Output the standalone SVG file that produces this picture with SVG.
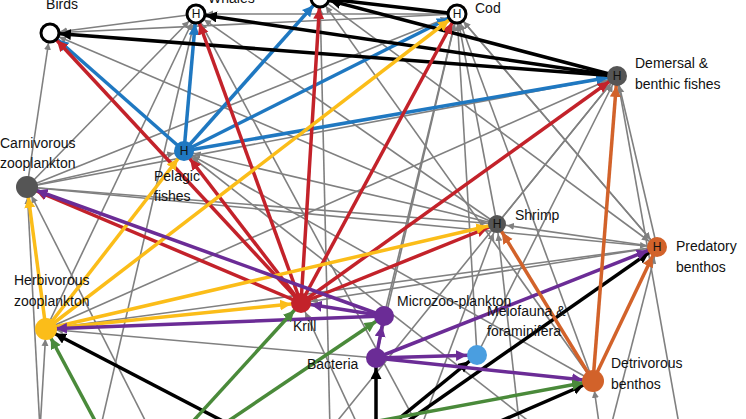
<svg xmlns="http://www.w3.org/2000/svg" width="746" height="419" viewBox="0 0 746 419">
<style>
text{font-family:"Liberation Sans",Arial,sans-serif;font-size:14px;fill:#111}
.g{stroke:#808080;stroke-width:1.6;marker-end:url(#mg)}
.b{stroke:#1f78c1;stroke-width:3.5;marker-end:url(#mb)}
.r{stroke:#c3222a;stroke-width:3.5;marker-end:url(#mr)}
.y{stroke:#fbbd19;stroke-width:3.5;marker-end:url(#my)}
.p{stroke:#6b2c96;stroke-width:3.5;marker-end:url(#mp)}
.gr{stroke:#4a8a3a;stroke-width:3.5;marker-end:url(#mgr)}
.k{stroke:#000;stroke-width:3.5;marker-end:url(#mk)}
.o{stroke:#d2622a;stroke-width:3.5;marker-end:url(#mo)}
.h{font-size:12px;text-anchor:middle}
</style>
<defs>
<marker id="mg" markerUnits="userSpaceOnUse" markerWidth="10" markerHeight="8" refX="17" refY="3.5" orient="auto"><path d="M0,0L7,3.5L0,7z" fill="#808080"/></marker>
<marker id="mb" markerUnits="userSpaceOnUse" markerWidth="14" markerHeight="12" refX="21" refY="5.5" orient="auto"><path d="M0,0L11,5.5L0,11z" fill="#1f78c1"/></marker>
<marker id="mr" markerUnits="userSpaceOnUse" markerWidth="14" markerHeight="12" refX="21" refY="5.5" orient="auto"><path d="M0,0L11,5.5L0,11z" fill="#c3222a"/></marker>
<marker id="my" markerUnits="userSpaceOnUse" markerWidth="14" markerHeight="12" refX="21" refY="5.5" orient="auto"><path d="M0,0L11,5.5L0,11z" fill="#fbbd19"/></marker>
<marker id="mp" markerUnits="userSpaceOnUse" markerWidth="14" markerHeight="12" refX="21" refY="5.5" orient="auto"><path d="M0,0L11,5.5L0,11z" fill="#6b2c96"/></marker>
<marker id="mgr" markerUnits="userSpaceOnUse" markerWidth="14" markerHeight="12" refX="21" refY="5.5" orient="auto"><path d="M0,0L11,5.5L0,11z" fill="#4a8a3a"/></marker>
<marker id="mk" markerUnits="userSpaceOnUse" markerWidth="14" markerHeight="12" refX="21" refY="5.5" orient="auto"><path d="M0,0L11,5.5L0,11z" fill="#000"/></marker>
<marker id="mo" markerUnits="userSpaceOnUse" markerWidth="14" markerHeight="12" refX="21" refY="5.5" orient="auto"><path d="M0,0L11,5.5L0,11z" fill="#d2622a"/></marker>
</defs>
<g id="connectors" fill="none">
<!-- gray -->
<line class="g" x1="27" y1="187" x2="50" y2="33"/>
<line class="g" x1="27" y1="187" x2="196" y2="14"/>
<line class="g" x1="27" y1="187" x2="184" y2="151"/>
<line class="g" x1="27" y1="187" x2="457" y2="14"/>
<line class="g" x1="27" y1="187" x2="617" y2="76"/>
<line class="g" x1="27" y1="187" x2="497" y2="224"/>
<line class="g" x1="27" y1="187" x2="657" y2="247"/>
<line class="g" x1="196" y1="14" x2="50" y2="33"/>
<line class="g" x1="457" y1="14" x2="196" y2="14"/>
<line class="g" x1="457" y1="14" x2="50" y2="33"/>
<line class="g" x1="617" y1="76" x2="196" y2="14"/>
<line class="g" x1="497" y1="224" x2="50" y2="33"/>
<line class="g" x1="497" y1="224" x2="196" y2="14"/>
<line class="g" x1="497" y1="224" x2="457" y2="14"/>
<line class="g" x1="497" y1="224" x2="617" y2="76"/>
<line class="g" x1="497" y1="224" x2="184" y2="151"/>
<line class="g" x1="657" y1="247" x2="457" y2="14"/>
<line class="g" x1="657" y1="247" x2="617" y2="76"/>
<line class="g" x1="657" y1="247" x2="497" y2="224"/>
<line class="g" x1="657" y1="247" x2="46" y2="329"/>
<line class="g" x1="657" y1="247" x2="301" y2="303"/>
<line class="g" x1="457" y1="14" x2="657" y2="247"/>
<line class="g" x1="320" y1="-2" x2="657" y2="247"/>
<line class="g" x1="46" y1="329" x2="617" y2="76"/>
<line class="g" x1="46" y1="329" x2="196" y2="14"/>
<line class="g" x1="376" y1="358" x2="46" y2="329"/>
<line class="g" x1="376" y1="358" x2="457" y2="14"/>
<line class="g" x1="384" y1="316" x2="457" y2="14"/>
<line class="g" x1="477" y1="355" x2="617" y2="76"/>
<line class="g" x1="477" y1="355" x2="457" y2="14"/>
<line class="g" x1="593" y1="381" x2="457" y2="14"/>
<line class="g" x1="593" y1="381" x2="184" y2="151"/>
<line class="g" x1="593" y1="381" x2="320" y2="-2"/>
<line class="g" x1="593" y1="381" x2="497" y2="224"/>
<line class="g" x1="301" y1="303" x2="617" y2="76"/>
<line class="g" x1="40" y1="430" x2="46" y2="329"/>
<line class="g" x1="40" y1="430" x2="27" y2="187"/>
<line class="g" x1="100" y1="430" x2="196" y2="14"/>
<line class="g" x1="150" y1="430" x2="27" y2="187"/>
<line class="g" x1="330" y1="430" x2="320" y2="-2"/>
<line class="g" x1="330" y1="430" x2="617" y2="76"/>
<line class="g" x1="420" y1="430" x2="196" y2="14"/>
<line class="g" x1="420" y1="430" x2="497" y2="224"/>
<line class="g" x1="360" y1="430" x2="301" y2="303"/>
<line class="g" x1="600" y1="430" x2="593" y2="381"/>
<line class="g" x1="610" y1="430" x2="657" y2="247"/>
<line class="g" x1="680" y1="430" x2="617" y2="76"/>
<line class="g" x1="520" y1="430" x2="497" y2="224"/>
<line class="g" x1="540" y1="430" x2="184" y2="151"/>
<!-- blue -->
<line class="b" x1="184" y1="151" x2="50" y2="33"/>
<line class="b" x1="184" y1="151" x2="196" y2="14"/>
<line class="b" x1="184" y1="151" x2="320" y2="-2"/>
<line class="b" x1="184" y1="151" x2="457" y2="14"/>
<line class="b" x1="184" y1="151" x2="617" y2="76"/>
<!-- black -->
<line class="k" x1="617" y1="76" x2="50" y2="33"/>
<line class="k" x1="617" y1="76" x2="196" y2="14"/>
<line class="k" x1="617" y1="76" x2="320" y2="-2"/>
<line class="k" x1="457" y1="14" x2="320" y2="-2"/>
<line class="k" x1="240" y1="430" x2="46" y2="329"/>
<line class="k" x1="376" y1="430" x2="376" y2="358"/>
<line class="k" x1="385" y1="430" x2="477" y2="355"/>
<line class="k" x1="395" y1="430" x2="657" y2="247"/>
<line class="k" x1="480" y1="430" x2="593" y2="381"/>
<!-- red -->
<line class="r" x1="301" y1="303" x2="50" y2="33"/>
<line class="r" x1="301" y1="303" x2="196" y2="14"/>
<line class="r" x1="301" y1="303" x2="320" y2="-2"/>
<line class="r" x1="301" y1="303" x2="457" y2="14"/>
<line class="r" x1="301" y1="303" x2="617" y2="76"/>
<line class="r" x1="301" y1="303" x2="184" y2="151"/>
<line class="r" x1="301" y1="303" x2="27" y2="187"/>
<line class="r" x1="301" y1="303" x2="497" y2="224"/>
<!-- yellow -->
<line class="y" x1="46" y1="329" x2="27" y2="187"/>
<line class="y" x1="46" y1="329" x2="184" y2="151"/>
<line class="y" x1="46" y1="329" x2="457" y2="14"/>
<line class="y" x1="46" y1="329" x2="301" y2="303"/>
<line class="y" x1="46" y1="329" x2="497" y2="224"/>
<!-- purple -->
<line class="p" x1="384" y1="316" x2="27" y2="187"/>
<line class="p" x1="384" y1="316" x2="46" y2="329"/>
<line class="p" x1="384" y1="316" x2="301" y2="303"/>
<line class="p" x1="376" y1="358" x2="384" y2="316"/>
<line class="p" x1="376" y1="358" x2="477" y2="355"/>
<line class="p" x1="376" y1="358" x2="593" y2="381"/>
<line class="p" x1="376" y1="358" x2="657" y2="247"/>
<!-- green -->
<line class="gr" x1="100" y1="430" x2="46" y2="329"/>
<line class="gr" x1="185" y1="430" x2="301" y2="303"/>
<line class="gr" x1="215" y1="430" x2="384" y2="316"/>
<line class="gr" x1="330" y1="430" x2="593" y2="381"/>
<!-- orange -->
<line class="o" x1="593" y1="381" x2="497" y2="224"/>
<line class="o" x1="593" y1="381" x2="617" y2="76"/>
<line class="o" x1="593" y1="381" x2="657" y2="247"/>
</g>
<g id="node-top"><circle cx="320" cy="-2" r="9" fill="#fff" stroke="#000" stroke-width="3"/></g>
<g id="node-birds"><circle cx="50" cy="33" r="9" fill="#fff" stroke="#000" stroke-width="3"/><text x="62" y="9" text-anchor="middle">Birds</text></g>
<g id="node-whales"><circle cx="196" cy="14" r="9" fill="#fff" stroke="#000" stroke-width="3"/><text class="h" x="196" y="18">H</text><text x="208" y="3">Whales</text></g>
<g id="node-cod"><circle cx="457" cy="14" r="9" fill="#fff" stroke="#000" stroke-width="3"/><text class="h" x="457" y="18">H</text><text x="475" y="13">Cod</text></g>
<g id="node-demersal"><circle cx="617" cy="76" r="10" fill="#555"/><text class="h" x="617" y="80">H</text><text x="635" y="68">Demersal &amp;</text><text x="635" y="89">benthic fishes</text></g>
<g id="node-pelagic"><circle cx="184" cy="151" r="10" fill="#1f78c1"/><text class="h" x="184" y="155">H</text><text x="154" y="181">Pelagic</text><text x="154" y="201">fishes</text></g>
<g id="node-carnzoo"><circle cx="27" cy="187" r="11" fill="#555"/><text x="0" y="148">Carnivorous</text><text x="0" y="168">zooplankton</text></g>
<g id="node-shrimp"><circle cx="497" cy="224" r="9" fill="#555"/><text class="h" x="497" y="228">H</text><text x="515" y="220">Shrimp</text></g>
<g id="node-predben"><circle cx="657" cy="247" r="10" fill="#d2622a"/><text class="h" x="657" y="251">H</text><text x="676" y="251">Predatory</text><text x="676" y="272">benthos</text></g>
<g id="node-herbzoo"><circle cx="46" cy="329" r="11" fill="#fbbd19"/><text x="14" y="285">Herbivorous</text><text x="14" y="306">zooplankton</text></g>
<g id="node-krill"><circle cx="301" cy="303" r="10" fill="#c3222a"/><text x="293" y="331">Krill</text></g>
<g id="node-microzoo"><circle cx="384" cy="316" r="10" fill="#6b2c96"/><text x="397" y="306">Microzoo-plankton</text></g>
<g id="node-bacteria"><circle cx="376" cy="358" r="10" fill="#6b2c96"/><text x="307" y="369">Bacteria</text></g>
<g id="node-meio"><circle cx="477" cy="355" r="10" fill="#4a9ee0"/><text x="487" y="316">Meiofauna &amp;</text><text x="487" y="336">foraminifera</text></g>
<g id="node-detben"><circle cx="593" cy="381" r="11" fill="#d2622a"/><text x="611" y="368">Detrivorous</text><text x="611" y="389">benthos</text></g>
</svg>
